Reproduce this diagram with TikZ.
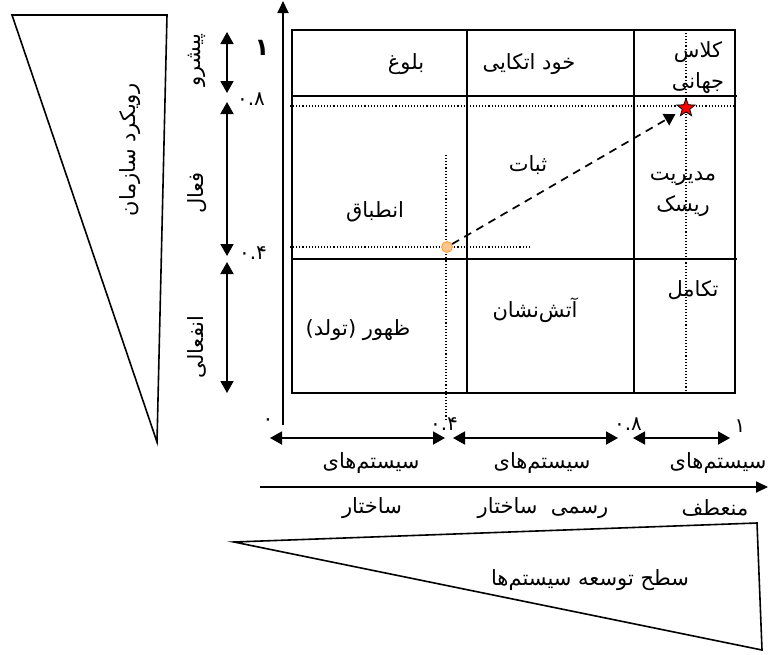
\documentclass[tikz,border=0pt]{standalone}
\usepackage{fontspec}
\usetikzlibrary{arrows.meta,shapes.geometric}
\newfontfamily\farsi[Script=Arabic]{DejaVu Sans}
\TeXXeTstate=1
\newcommand{\fatext}[1]{\beginR #1\endR}
\tikzset{
  lbl/.style={font=\farsi\fontsize{21}{31}\selectfont, inner sep=0pt, align=center},
  tick/.style={font=\farsi\fontsize{20}{22}\selectfont, inner sep=0pt},
  dblarrow/.style={{Triangle[length=12pt,width=13pt]}-{Triangle[length=12pt,width=13pt]}, line width=1.8pt},
  axis/.style={-{Triangle[length=12pt,width=11pt]}, line width=1.8pt},
  guide/.style={dotted, line width=1.1pt}
}
\begin{document}
\begin{tikzpicture}[x=1pt,y=-1pt]
\useasboundingbox (0,0) rectangle (768,654);

\draw [line width=1.6pt] (12,15) -- (167,15) -- (157,442) -- cycle;
\draw [line width=1.6pt] (234,542) -- (757,523) -- (762,650) -- cycle;

\draw [axis] (283,425) -- (283,1);
\draw [axis] (260,487) -- (768,487);

\draw [line width=1.3pt] (292,30) rectangle (735,393);
\draw [line width=1.3pt] (467,30) -- (467,393);
\draw [line width=1.3pt] (634,30) -- (634,393);
\draw [line width=1.3pt] (292,96) -- (737,96);
\draw [line width=1.3pt] (292,259) -- (737,259);

\draw [guide] (290,106) -- (735,106);
\draw [guide] (290,247) -- (530,247);
\draw [guide] (446,155) -- (446,420);
\draw [guide] (686,33) -- (686,393);

\draw [dblarrow] (227,32) -- (227,93);
\draw [dblarrow] (227,102) -- (227,256);
\draw [dblarrow] (227,262) -- (227,393);
\draw [dblarrow] (270,438) -- (445,438);
\draw [dblarrow] (453,438) -- (618,438);
\draw [dblarrow] (633,438) -- (730,438);

\node [circle, draw=orange!80, fill=orange!45, line width=0.8pt, inner sep=0pt, minimum size=11pt] (start) at (447,247) {};
\node [star, star points=5, star point ratio=2.4, draw, fill=red, line width=0.8pt, inner sep=0pt, minimum size=19pt] (goal) at (686,108) {};
\draw [dashed, dash pattern=on 8pt off 6pt, line width=1.7pt, -{Triangle[length=11pt,width=13pt]}, shorten >=7pt] (start) -- (goal);

\node [lbl] (mature) at (406,64) {\fatext{بلوغ}};
\node [lbl] (selfrel) at (529,64) {\fatext{خود اتکایی}};
\node [lbl] (world) at (698,68) {\fatext{کلاس}\\\fatext{جهانی}};
\node [lbl] (stable) at (528,165) {\fatext{ثبات}};
\node [lbl] (adapt) at (375,212) {\fatext{انطباق}};
\node [lbl] (risk) at (683,194) {\fatext{مدیریت}\\\fatext{ریسک}};
\node [lbl] (evolve) at (693,290) {\fatext{تکامل}};
\node [lbl] (fire) at (535,310) {\fatext{آتش‌نشان}};
\node [lbl] (birth) at (358,330) {\fatext{ظهور (تولد)}};

\node [lbl, rotate=90] (approach) at (130,150) {\fatext{رویکرد سازمان}};
\node [lbl, rotate=90] (lead) at (197,60) {\fatext{پیشرو}};
\node [lbl, rotate=90] (active) at (197,193) {\fatext{فعال}};
\node [lbl, rotate=90] (passive) at (197,347) {\fatext{انفعالی}};

\node [tick, font=\farsi\bfseries\fontsize{24}{26}\selectfont] (ytop) at (262,48) {۱};
\node [tick] (y08) at (251,99) {۰.۸};
\node [tick] (y04) at (253,253) {۰.۴};
\node [tick] (x0) at (268,422) {۰};
\node [tick] (x04) at (444,424) {۰.۴};
\node [tick] (x08) at (628,424) {۰.۸};
\node [tick] (x1) at (740,426) {۱};

\node [lbl] (sys1) at (371,463) {\fatext{سیستم‌های}};
\node [lbl] (sys2) at (542,463) {\fatext{سیستم‌های}};
\node [lbl] (sys3) at (718,463) {\fatext{سیستم‌های}};
\node [lbl] (struct) at (372,508) {\fatext{ساختار}};
\node [lbl] (formal) at (543,508) {\fatext{رسمی\ \ ساختار}};
\node [lbl] (flex) at (715,508) {\fatext{منعطف}};

\node [lbl] (level) at (590,580) {\fatext{سطح توسعه سیستم‌ها}};

\end{tikzpicture}
\end{document}
